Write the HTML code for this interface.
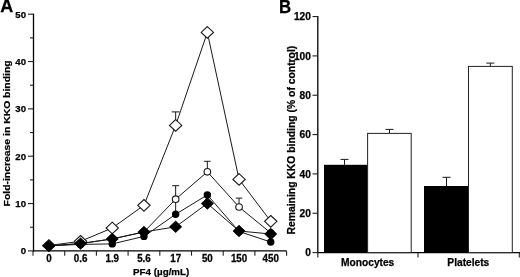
<!DOCTYPE html><html><head><meta charset="utf-8"><style>
html,body{margin:0;padding:0;background:#fff;}
body{width:520px;height:277px;overflow:hidden;}
svg{display:block;will-change:transform;}
text{font-family:"Liberation Sans", sans-serif;font-weight:bold;fill:#000;stroke:#000;stroke-width:0.25px;}
</style></head><body>
<svg width="520" height="277" viewBox="0 0 520 277">
<rect width="520" height="277" fill="#fff"/>
<text x="0.3" y="12.2" font-size="18">A</text>
<text transform="translate(279.1,12.5) scale(1,1.07)" font-size="16.8">B</text>
<g stroke="#000" stroke-width="1.3" fill="none">
<line x1="33.50" y1="13.60" x2="33.50" y2="251.50"/>
<line x1="33.00" y1="250.90" x2="286.60" y2="250.90"/>
<line x1="28" y1="250.90" x2="33.50" y2="250.90" stroke-width="1.1" stroke="#222"/>
<line x1="28" y1="203.56" x2="33.50" y2="203.56" stroke-width="1.1" stroke="#222"/>
<line x1="28" y1="156.22" x2="33.50" y2="156.22" stroke-width="1.1" stroke="#222"/>
<line x1="28" y1="108.88" x2="33.50" y2="108.88" stroke-width="1.1" stroke="#222"/>
<line x1="28" y1="61.54" x2="33.50" y2="61.54" stroke-width="1.1" stroke="#222"/>
<line x1="28" y1="14.20" x2="33.50" y2="14.20" stroke-width="1.1" stroke="#222"/>
<line x1="30" y1="227.23" x2="33.50" y2="227.23" stroke-width="1.1" stroke="#222"/>
<line x1="30" y1="179.89" x2="33.50" y2="179.89" stroke-width="1.1" stroke="#222"/>
<line x1="30" y1="132.55" x2="33.50" y2="132.55" stroke-width="1.1" stroke="#222"/>
<line x1="30" y1="85.21" x2="33.50" y2="85.21" stroke-width="1.1" stroke="#222"/>
<line x1="30" y1="37.87" x2="33.50" y2="37.87" stroke-width="1.1" stroke="#222"/>
<line x1="33.00" y1="250.90" x2="33.00" y2="255.70" stroke-width="1.1" stroke="#222"/>
<line x1="64.70" y1="250.90" x2="64.70" y2="255.70" stroke-width="1.1" stroke="#222"/>
<line x1="96.40" y1="250.90" x2="96.40" y2="255.70" stroke-width="1.1" stroke="#222"/>
<line x1="128.10" y1="250.90" x2="128.10" y2="255.70" stroke-width="1.1" stroke="#222"/>
<line x1="159.80" y1="250.90" x2="159.80" y2="255.70" stroke-width="1.1" stroke="#222"/>
<line x1="191.50" y1="250.90" x2="191.50" y2="255.70" stroke-width="1.1" stroke="#222"/>
<line x1="223.20" y1="250.90" x2="223.20" y2="255.70" stroke-width="1.1" stroke="#222"/>
<line x1="254.90" y1="250.90" x2="254.90" y2="255.70" stroke-width="1.1" stroke="#222"/>
<line x1="286.60" y1="250.90" x2="286.60" y2="255.70" stroke-width="1.1" stroke="#222"/>
</g>
<g font-size="9.6" text-anchor="end">
<text x="26.0" y="254.30">0</text>
<text x="26.0" y="206.96">10</text>
<text x="26.0" y="159.62">20</text>
<text x="26.0" y="112.28">30</text>
<text x="26.0" y="64.94">40</text>
<text x="26.0" y="17.60">50</text>
</g>
<g font-size="9.8" text-anchor="middle">
<text transform="translate(48.85,261.9) scale(1,1.12)">0</text>
<text transform="translate(80.55,261.9) scale(1,1.12)">0.6</text>
<text transform="translate(112.25,261.9) scale(1,1.12)">1.9</text>
<text transform="translate(143.95,261.9) scale(1,1.12)">5.6</text>
<text transform="translate(175.65,261.9) scale(1,1.12)">17</text>
<text transform="translate(207.35,261.9) scale(1,1.12)">50</text>
<text transform="translate(239.05,261.9) scale(1,1.12)">150</text>
<text transform="translate(270.75,261.9) scale(1,1.12)">450</text>
</g>
<text x="161.2" y="275.4" font-size="9.8" text-anchor="middle">PF4 (µg/mL)</text>
<text transform="translate(9.9,133.4) rotate(-90) scale(1,0.85)" font-size="10.4" text-anchor="middle">Fold-increase in KKO binding</text>
<g stroke="#1a1a1a" stroke-width="1.00" fill="none">
<polyline points="48.85,246.00 80.55,243.60 112.25,238.90 143.95,232.00 175.65,226.80 207.35,203.50 239.05,231.00 270.75,234.00"/>
<polyline points="48.85,245.80 80.55,244.40 112.25,243.90 143.95,236.40 175.65,214.30 207.35,194.90 239.05,231.50 270.75,242.00"/>
<polyline points="48.85,245.80 80.55,243.60 112.25,238.90 143.95,232.00 175.65,199.20 207.35,171.80 239.05,207.00 270.75,233.00"/>
<polyline points="48.85,245.50 80.55,241.30 112.25,228.00 143.95,205.30 175.65,125.40 207.35,32.40 239.05,179.40 270.75,221.30"/>
</g>
<g stroke="#1a1a1a" stroke-width="1" fill="none">
<line x1="175.65" y1="125.40" x2="175.65" y2="111.90"/><line x1="171.65" y1="111.90" x2="179.65" y2="111.90"/>
<line x1="175.65" y1="199.20" x2="175.65" y2="185.70"/><line x1="172.15" y1="185.70" x2="179.15" y2="185.70"/>
<line x1="207.35" y1="171.80" x2="207.35" y2="161.30"/><line x1="204.10" y1="161.30" x2="210.60" y2="161.30"/>
<line x1="239.05" y1="207.00" x2="239.05" y2="198.10"/><line x1="235.80" y1="198.10" x2="242.30" y2="198.10"/>
<line x1="175.65" y1="214.30" x2="175.65" y2="199.20"/>
</g>
<polygon points="48.85,239.68 55.03,245.50 48.85,251.32 42.67,245.50" fill="#fff" stroke="#1a1a1a" stroke-width="1.1"/>
<polygon points="80.55,235.48 86.73,241.30 80.55,247.12 74.37,241.30" fill="#fff" stroke="#1a1a1a" stroke-width="1.1"/>
<polygon points="112.25,222.18 118.43,228.00 112.25,233.82 106.07,228.00" fill="#fff" stroke="#1a1a1a" stroke-width="1.1"/>
<polygon points="143.95,199.48 150.13,205.30 143.95,211.12 137.77,205.30" fill="#fff" stroke="#1a1a1a" stroke-width="1.1"/>
<polygon points="175.65,119.58 181.83,125.40 175.65,131.22 169.47,125.40" fill="#fff" stroke="#1a1a1a" stroke-width="1.1"/>
<polygon points="207.35,26.58 213.53,32.40 207.35,38.22 201.17,32.40" fill="#fff" stroke="#1a1a1a" stroke-width="1.1"/>
<polygon points="239.05,173.58 245.23,179.40 239.05,185.22 232.87,179.40" fill="#fff" stroke="#1a1a1a" stroke-width="1.1"/>
<polygon points="270.75,215.48 276.93,221.30 270.75,227.12 264.57,221.30" fill="#fff" stroke="#1a1a1a" stroke-width="1.1"/>
<circle cx="48.85" cy="245.80" r="3.30" fill="#fff" stroke="#1a1a1a" stroke-width="1.1"/>
<circle cx="80.55" cy="243.60" r="3.30" fill="#fff" stroke="#1a1a1a" stroke-width="1.1"/>
<circle cx="112.25" cy="238.90" r="3.30" fill="#fff" stroke="#1a1a1a" stroke-width="1.1"/>
<circle cx="143.95" cy="232.00" r="3.30" fill="#fff" stroke="#1a1a1a" stroke-width="1.1"/>
<circle cx="175.65" cy="199.20" r="3.30" fill="#fff" stroke="#1a1a1a" stroke-width="1.1"/>
<circle cx="207.35" cy="171.80" r="3.30" fill="#fff" stroke="#1a1a1a" stroke-width="1.1"/>
<circle cx="239.05" cy="207.00" r="3.30" fill="#fff" stroke="#1a1a1a" stroke-width="1.1"/>
<circle cx="270.75" cy="233.00" r="3.30" fill="#fff" stroke="#1a1a1a" stroke-width="1.1"/>
<circle cx="48.85" cy="245.80" r="3.70" fill="#000"/>
<circle cx="80.55" cy="244.40" r="3.70" fill="#000"/>
<circle cx="112.25" cy="243.90" r="3.70" fill="#000"/>
<circle cx="143.95" cy="236.40" r="3.70" fill="#000"/>
<circle cx="175.65" cy="214.30" r="3.70" fill="#000"/>
<circle cx="207.35" cy="194.90" r="3.70" fill="#000"/>
<circle cx="239.05" cy="231.50" r="3.70" fill="#000"/>
<circle cx="270.75" cy="242.00" r="3.70" fill="#000"/>
<polygon points="48.85,240.28 54.93,246.00 48.85,251.72 42.77,246.00" fill="#000" stroke="#000" stroke-width="0.8"/>
<polygon points="80.55,237.88 86.63,243.60 80.55,249.32 74.47,243.60" fill="#000" stroke="#000" stroke-width="0.8"/>
<polygon points="112.25,233.18 118.33,238.90 112.25,244.62 106.17,238.90" fill="#000" stroke="#000" stroke-width="0.8"/>
<polygon points="143.95,226.28 150.03,232.00 143.95,237.72 137.87,232.00" fill="#000" stroke="#000" stroke-width="0.8"/>
<polygon points="175.65,221.08 181.73,226.80 175.65,232.52 169.57,226.80" fill="#000" stroke="#000" stroke-width="0.8"/>
<polygon points="207.35,197.78 213.43,203.50 207.35,209.22 201.27,203.50" fill="#000" stroke="#000" stroke-width="0.8"/>
<polygon points="239.05,225.28 245.13,231.00 239.05,236.72 232.97,231.00" fill="#000" stroke="#000" stroke-width="0.8"/>
<polygon points="270.75,228.28 276.83,234.00 270.75,239.72 264.67,234.00" fill="#000" stroke="#000" stroke-width="0.8"/>
<g stroke="#000" stroke-width="1.3" fill="none">
<line x1="317.80" y1="15.96" x2="317.80" y2="253.20"/>
<line x1="317.80" y1="252.60" x2="520" y2="252.60"/>
<line x1="312.5" y1="252.60" x2="317.80" y2="252.60" stroke-width="1.1" stroke="#222"/>
<line x1="312.5" y1="213.26" x2="317.80" y2="213.26" stroke-width="1.1" stroke="#222"/>
<line x1="312.5" y1="173.92" x2="317.80" y2="173.92" stroke-width="1.1" stroke="#222"/>
<line x1="312.5" y1="134.58" x2="317.80" y2="134.58" stroke-width="1.1" stroke="#222"/>
<line x1="312.5" y1="95.24" x2="317.80" y2="95.24" stroke-width="1.1" stroke="#222"/>
<line x1="312.5" y1="55.90" x2="317.80" y2="55.90" stroke-width="1.1" stroke="#222"/>
<line x1="312.5" y1="16.56" x2="317.80" y2="16.56" stroke-width="1.1" stroke="#222"/>
<line x1="317.80" y1="252.60" x2="317.80" y2="257.60" stroke-width="1.1" stroke="#222"/>
<line x1="418.00" y1="252.60" x2="418.00" y2="257.60" stroke-width="1.1" stroke="#222"/>
<line x1="519.30" y1="252.60" x2="519.30" y2="257.60" stroke-width="1.1" stroke="#222"/>
</g>
<g font-size="10.2" text-anchor="end">
<text x="310.9" y="256.25">0</text>
<text x="310.9" y="216.91">20</text>
<text x="310.9" y="177.57">40</text>
<text x="310.9" y="138.23">60</text>
<text x="310.9" y="98.89">80</text>
<text x="310.9" y="59.55">100</text>
<text x="310.9" y="20.21">120</text>
</g>
<text transform="translate(294.9,140.1) rotate(-90)" font-size="10.36" text-anchor="middle">Remaining KKO binding (% of control)</text>
<line x1="344.50" y1="164.80" x2="344.50" y2="159.40" stroke="#1a1a1a" stroke-width="1"/>
<line x1="340.50" y1="159.40" x2="348.50" y2="159.40" stroke="#1a1a1a" stroke-width="1"/>
<rect x="324.00" y="164.80" width="43.60" height="87.80" fill="#000"/>
<line x1="389.50" y1="133.40" x2="389.50" y2="129.40" stroke="#1a1a1a" stroke-width="1"/>
<line x1="385.50" y1="129.40" x2="393.50" y2="129.40" stroke="#1a1a1a" stroke-width="1"/>
<rect x="367.60" y="133.40" width="43.60" height="119.20" fill="#fff" stroke="#222" stroke-width="1"/>
<line x1="446.50" y1="186.00" x2="446.50" y2="177.30" stroke="#1a1a1a" stroke-width="1"/>
<line x1="442.50" y1="177.30" x2="450.50" y2="177.30" stroke="#1a1a1a" stroke-width="1"/>
<rect x="424.00" y="186.00" width="44.50" height="66.60" fill="#000"/>
<line x1="490.30" y1="66.40" x2="490.30" y2="63.10" stroke="#1a1a1a" stroke-width="1"/>
<line x1="486.30" y1="63.10" x2="494.30" y2="63.10" stroke="#1a1a1a" stroke-width="1"/>
<rect x="468.50" y="66.40" width="43.80" height="186.20" fill="#fff" stroke="#222" stroke-width="1"/>
<text x="367.7" y="266.4" font-size="10.2" text-anchor="middle">Monocytes</text>
<text x="468.3" y="266.4" font-size="10.2" text-anchor="middle">Platelets</text>
</svg></body></html>
